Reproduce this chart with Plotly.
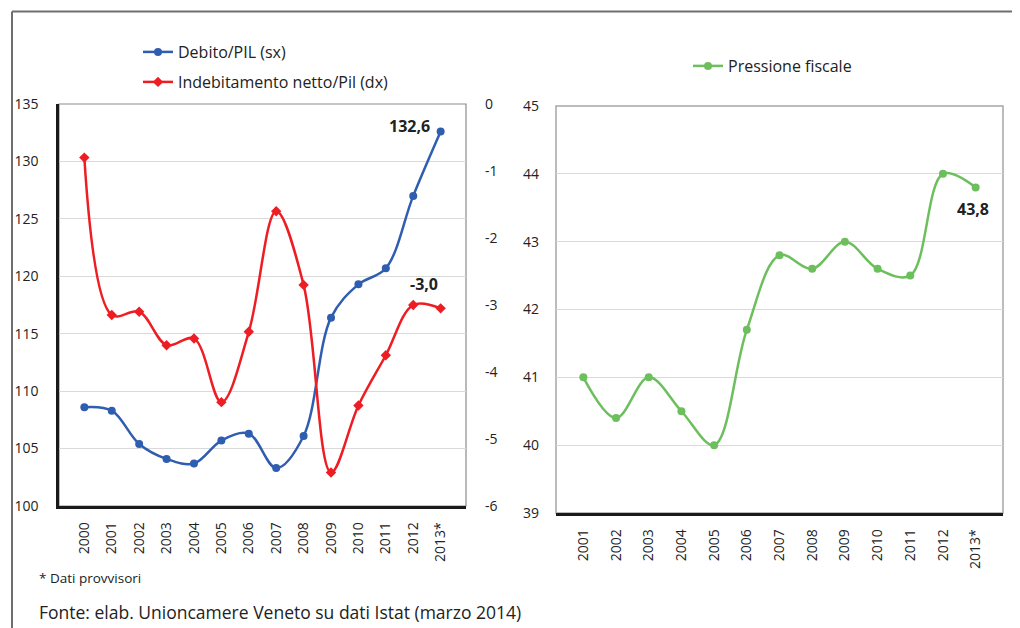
import plotly.graph_objects as go

years_left = ["2000", "2001", "2002", "2003", "2004", "2005", "2006", "2007",
              "2008", "2009", "2010", "2011", "2012", "2013*"]
debito_pil = [108.6, 108.3, 105.4, 104.1, 103.7, 105.7, 106.3, 103.3,
              106.1, 116.4, 119.3, 120.7, 127.0, 132.6]
indebitamento_pil = [-0.8, -3.15, -3.1, -3.6, -3.5, -4.45, -3.4, -1.6,
                     -2.7, -5.5, -4.5, -3.75, -3.0, -3.05]
right_axis_ticks = [-6, -5, -4, -3, -2, -1, 0]
right_axis_labels = ["-6", "-5", "-4", "-3", "-2", "-1", "0"]

years_right = ["2001", "2002", "2003", "2004", "2005", "2006", "2007",
               "2008", "2009", "2010", "2011", "2012", "2013*"]
pressione_fiscale = [41.0, 40.4, 41.0, 40.5, 40.0, 41.7, 42.8, 42.6,
                     43.0, 42.6, 42.5, 44.0, 43.8]

BLUE = "#2F5DB0"
RED = "#EE1D23"
GREEN = "#6CBF5C"
FONT = "Open Sans"
TXT = "#222222"

# page has an 8px body margin: figure sized so it fills the 1020x628 window
OFF = 8
W, H = 1020 - OFF, 628 - OFF
def px(x):
    return (x - OFF) / W
def py(y):
    return 1 - (y - OFF) / H

fig = go.Figure()

fig.add_trace(go.Scatter(
    x=years_left, y=debito_pil, name="Debito/PIL (sx)", mode="lines+markers",
    line=dict(color=BLUE, width=2.5, shape="spline", smoothing=1.0),
    marker=dict(symbol="circle", size=8, color=BLUE),
    xaxis="x", yaxis="y", legend="legend"))
fig.add_trace(go.Scatter(
    x=years_left, y=indebitamento_pil, name="Indebitamento netto/Pil (dx)", mode="lines+markers",
    line=dict(color=RED, width=2.5, shape="spline", smoothing=1.0),
    marker=dict(symbol="diamond", size=8, color=RED),
    xaxis="x", yaxis="y2", legend="legend3"))
fig.add_trace(go.Scatter(
    x=years_right, y=pressione_fiscale, name="Pressione fiscale", mode="lines+markers",
    line=dict(color=GREEN, width=2.5, shape="spline", smoothing=1.0),
    marker=dict(symbol="circle", size=8, color=GREEN),
    xaxis="x2", yaxis="y3", legend="legend2"))

tickfont = dict(family=FONT, size=14, color=TXT)
grid = "#D9D9D9"
legfont = dict(family=FONT, size=16, color=TXT)

fig.update_layout(
    width=W, height=H, margin=dict(l=0, r=0, t=0, b=0, pad=0, autoexpand=False),
    paper_bgcolor="white", plot_bgcolor="white",
    font=dict(family=FONT, color=TXT),
    xaxis=dict(domain=[px(59), px(466)], type="category", tickangle=-90,
               tickfont=tickfont, showgrid=False, showline=True, linecolor="#1a1a1a",
               linewidth=2.5, ticks="", ticklabelstandoff=8, automargin=False),
    yaxis=dict(domain=[py(506), py(104)], range=[100, 135], dtick=5,
               tickfont=tickfont, showgrid=True, gridcolor=grid, gridwidth=1.2,
               showline=True, linecolor="#1a1a1a", linewidth=2.5, ticks="",
               ticklabelstandoff=15, zeroline=False, automargin=False),
    yaxis2=dict(overlaying="y", side="right", range=[-6, 0],
                tickmode="array", tickvals=right_axis_ticks, ticktext=right_axis_labels,
                tickfont=tickfont, showgrid=False, showline=False, ticks="",
                ticklabelstandoff=18, zeroline=False, anchor="x", automargin=False),
    xaxis2=dict(domain=[px(556), px(1003)], type="category", tickangle=-90,
                tickfont=tickfont, showgrid=False, showline=True, linecolor="#1a1a1a",
                linewidth=2.5, ticks="", ticklabelstandoff=8, anchor="y3", automargin=False),
    yaxis3=dict(domain=[py(513), py(106)], range=[39, 45], dtick=1, anchor="x2",
                tickfont=tickfont, showgrid=True, gridcolor=grid, gridwidth=1.2,
                showline=False, ticks="", ticklabelstandoff=16, zeroline=False, automargin=False),
    legend=dict(x=px(138), y=py(52), xanchor="left", yanchor="middle",
                orientation="v", font=legfont, bgcolor="rgba(0,0,0,0)", itemwidth=30),
    legend3=dict(x=px(138), y=py(82), xanchor="left", yanchor="middle",
                 orientation="v", font=legfont, bgcolor="rgba(0,0,0,0)", itemwidth=30),
    legend2=dict(x=px(688), y=py(66), xanchor="left", yanchor="middle",
                 orientation="h", font=legfont, bgcolor="rgba(0,0,0,0)", itemwidth=30),
    showlegend=True,
)

# plot frames (gray top/right edges)
fig.add_shape(type="rect", xref="paper", yref="paper",
              x0=px(59), x1=px(466), y0=py(506), y1=py(104),
              line=dict(color="#8C8C8C", width=1.2), layer="below")
fig.add_shape(type="rect", xref="paper", yref="paper",
              x0=px(556), x1=px(1003), y0=py(513), y1=py(106),
              line=dict(color="#A6A6A6", width=1.5), layer="below")

# outer frame (top and left)
fig.add_shape(type="line", xref="paper", yref="paper",
              x0=px(12), x1=1.0, y0=py(11.5), y1=py(11.5),
              line=dict(color="#6E6E6E", width=2))
fig.add_shape(type="line", xref="paper", yref="paper",
              x0=px(12), x1=px(12), y0=py(11.5), y1=0,
              line=dict(color="#6E6E6E", width=2))

bold = dict(family=FONT, size=16, color=TXT)
fig.add_annotation(x=years_left[-1], y=debito_pil[-1], xref="x", yref="y",
                   text="<b>132,6</b>", showarrow=False, xanchor="center",
                   yanchor="middle", xshift=-31, yshift=6, font=bold)
fig.add_annotation(x=years_left[-1], y=indebitamento_pil[-2], xref="x", yref="y2",
                   text="<b>-3,0</b>", showarrow=False, xanchor="center",
                   yanchor="middle", xshift=-17, yshift=21, font=bold)
fig.add_annotation(x=years_right[-1], y=pressione_fiscale[-1], xref="x2", yref="y3",
                   text="<b>43,8</b>", showarrow=False, xanchor="center",
                   yanchor="middle", xshift=-3, yshift=-22, font=bold)

fig.add_annotation(x=px(37), y=py(578), xref="paper", yref="paper",
                   text="* Dati provvisori", showarrow=False, xanchor="left",
                   yanchor="middle", font=dict(family=FONT, size=13.5, color=TXT))
fig.add_annotation(x=px(37), y=py(612), xref="paper", yref="paper",
                   text="Fonte: elab. Unioncamere Veneto su dati Istat (marzo 2014)",
                   showarrow=False, xanchor="left", yanchor="middle",
                   font=dict(family=FONT, size=17.5, color=TXT))

fig.write_html("out.html")
